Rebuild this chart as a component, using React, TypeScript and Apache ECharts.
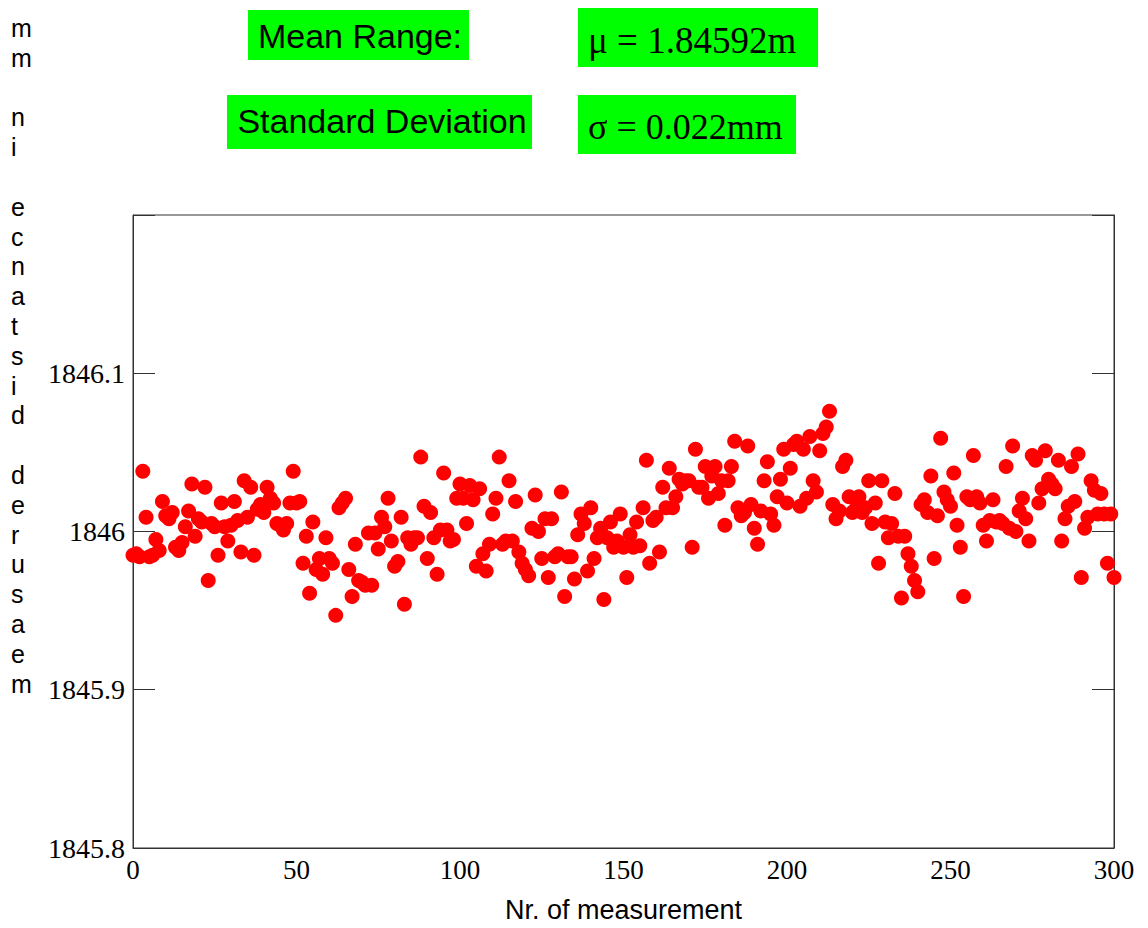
import React, { useEffect, useRef } from "react";
import * as echarts from "echarts";

// measured distance (mm) for measurement number 0..300
const measuredDistance: number[] = [
  1845.985, 1845.986, 1845.984, 1846.038, 1846.009, 1845.984, 1845.985, 1845.995, 1845.988, 1846.019,
  1846.010, 1846.008, 1846.012, 1845.990, 1845.988, 1845.993, 1846.003, 1846.013, 1846.030, 1845.997,
  1846.008, 1846.006, 1846.028, 1845.969, 1846.005, 1846.003, 1845.985, 1846.018, 1846.003, 1845.994,
  1846.004, 1846.019, 1846.007, 1845.987, 1846.032, 1846.009, 1846.028, 1845.985, 1846.014, 1846.017,
  1846.012, 1846.028, 1846.021, 1846.018, 1846.005, 1846.004, 1846.001, 1846.005, 1846.018, 1846.038,
  1846.018, 1846.019, 1845.980, 1845.997, 1845.961, 1846.006, 1845.976, 1845.983, 1845.973, 1845.996,
  1845.983, 1845.980, 1845.947, 1846.015, 1846.018, 1846.021, 1845.976, 1845.959, 1845.992, 1845.969,
  1845.968, 1845.966, 1845.999, 1845.966, 1845.999, 1845.989, 1846.009, 1846.003, 1846.021, 1845.994,
  1845.978, 1845.981, 1846.009, 1845.954, 1845.996, 1845.992, 1845.996, 1845.996, 1846.047, 1846.016,
  1845.983, 1846.012, 1845.996, 1845.973, 1846.001, 1846.037, 1846.001, 1845.994, 1845.995, 1846.021,
  1846.030, 1846.021, 1846.005, 1846.029, 1846.020, 1845.978, 1846.027, 1845.986, 1845.975, 1845.992,
  1846.011, 1846.021, 1846.047, 1845.992, 1845.994, 1846.032, 1845.994, 1846.019, 1845.987, 1845.980,
  1845.976, 1845.972, 1846.002, 1846.023, 1846.000, 1845.983, 1846.008, 1845.971, 1846.008, 1845.984,
  1845.986, 1846.025, 1845.959, 1845.984, 1845.984, 1845.970, 1845.998, 1846.011, 1846.005, 1845.975,
  1846.015, 1845.983, 1845.996, 1846.002, 1845.957, 1845.996, 1846.006, 1845.990, 1845.994, 1846.011,
  1845.990, 1845.971, 1845.998, 1845.990, 1846.006, 1845.991, 1846.015, 1846.045, 1845.980, 1846.007,
  1846.009, 1845.987, 1846.028, 1846.015, 1846.040, 1846.015, 1846.022, 1846.033, 1846.030, 1846.032,
  1846.032, 1845.990, 1846.052, 1846.028, 1846.028, 1846.041, 1846.021, 1846.035, 1846.041, 1846.024,
  1846.032, 1846.004, 1846.032, 1846.041, 1846.057, 1846.015, 1846.010, 1846.012, 1846.054, 1846.017,
  1846.002, 1845.992, 1846.013, 1846.032, 1846.044, 1846.011, 1846.004, 1846.022, 1846.033, 1846.052,
  1846.018, 1846.040, 1846.055, 1846.057, 1846.016, 1846.052, 1846.021, 1846.060, 1846.032, 1846.025,
  1846.051, 1846.062, 1846.066, 1846.076, 1846.017, 1846.008, 1846.013, 1846.041, 1846.045, 1846.022,
  1846.012, 1846.014, 1846.022, 1846.012, 1846.015, 1846.032, 1846.005, 1846.018, 1845.980, 1846.032,
  1846.006, 1845.996, 1846.005, 1846.024, 1845.997, 1845.958, 1845.997, 1845.986, 1845.978, 1845.969,
  1845.962, 1846.017, 1846.020, 1846.012, 1846.035, 1845.983, 1846.010, 1846.059, 1846.025, 1846.020,
  1846.016, 1846.037, 1846.004, 1845.990, 1845.959, 1846.022, 1846.020, 1846.048, 1846.022, 1846.018,
  1846.004, 1845.994, 1846.007, 1846.020, 1846.006, 1846.007, 1846.005, 1846.041, 1846.002, 1846.054,
  1846.000, 1846.013, 1846.021, 1846.008, 1845.994, 1846.048, 1846.045, 1846.018, 1846.027, 1846.051,
  1846.033, 1846.030, 1846.027, 1846.045, 1845.994, 1846.008, 1846.016, 1846.041, 1846.019, 1846.049,
  1845.971, 1846.002, 1846.009, 1846.032, 1846.026, 1846.011, 1846.024, 1846.011, 1845.980, 1846.011,
  1845.971,
];

const xAxisMin = 0;
const xAxisMax = 300;
const xAxisStep = 50;
const yAxisMin = 1845.8;
const yAxisMax = 1846.2;
const yAxisStep = 0.1;

const xTitle = "Nr. of measurement";
const yTitle = "measured distance in mm";
const meanLabel = "Mean Range:";
const meanValue = "\u03bc = 1.84592m";
const sdLabel = "Standard Deviation";
const sdValue = "\u03c3 = 0.022mm";

export default function App() {
  const ref = useRef<HTMLDivElement>(null);

  useEffect(() => {
    if (!ref.current) return;
    const chart = echarts.init(ref.current, undefined, { renderer: "svg" });

    const points = measuredDistance.map((v, i) => [i, v]);
    // y title: characters stacked vertically, reversed (reads bottom to top)
    const stacked = yTitle.split("").reverse().join("\n");

    const serif = "'Liberation Serif', 'Times New Roman', serif";
    const sans = "'Liberation Sans', Arial, sans-serif";

    const yFormatter = (v: number) => {
      if (v > yAxisMax - yAxisStep / 2) return "";
      return String(Math.round(v * 10) / 10);
    };

    chart.setOption({
      animation: false,
      backgroundColor: "#ffffff",
      grid: {
        left: 133,
        top: 215,
        width: 981,
        height: 633,
        show: true,
        borderColor: "#333",
        borderWidth: 1,
        backgroundColor: "transparent",
      },
      xAxis: {
        type: "value",
        min: xAxisMin,
        max: xAxisMax,
        interval: xAxisStep,
        axisLine: { show: true, lineStyle: { color: "#333", width: 1 } },
        axisTick: { show: false },
        splitLine: { show: false },
        axisLabel: {
          color: "#000",
          fontFamily: serif,
          fontSize: 27,
          margin: 8,
        },
        name: xTitle,
        nameLocation: "middle",
        nameGap: 48,
        nameTextStyle: { color: "#000", fontFamily: sans, fontSize: 27 },
      },
      yAxis: [
        {
          type: "value",
          min: yAxisMin,
          max: yAxisMax,
          interval: yAxisStep,
          position: "left",
          axisLine: { show: true, lineStyle: { color: "#333", width: 1 } },
          axisTick: { show: true, inside: true, length: 22, lineStyle: { color: "#333" } },
          splitLine: { show: false },
          axisLabel: {
            color: "#000",
            fontFamily: serif,
            fontSize: 28,
            margin: 8,
            formatter: yFormatter,
          },
        },
        {
          type: "value",
          min: yAxisMin,
          max: yAxisMax,
          interval: yAxisStep,
          position: "right",
          axisLine: { show: true, lineStyle: { color: "#333", width: 1 } },
          axisTick: { show: true, inside: true, length: 22, lineStyle: { color: "#333" } },
          splitLine: { show: false },
          axisLabel: { show: false },
        },
      ],
      series: [
        {
          type: "scatter",
          data: points,
          symbol: "circle",
          symbolSize: 15,
          itemStyle: { color: "#ff0000", opacity: 1 },
          yAxisIndex: 0,
        },
      ],
      graphic: [
        {
          type: "text",
          left: 11,
          top: 13,
          style: {
            text: stacked,
            fontFamily: sans,
            fontSize: 25,
            lineHeight: 29.8,
            fill: "#000",
            align: "left",
          },
        },
        { type: "rect", shape: { x: 248, y: 10, width: 221, height: 50 }, style: { fill: "#00ff00" } },
        {
          type: "text",
          x: 360,
          y: 36,
          style: {
            text: meanLabel,
            fontFamily: sans,
            fontSize: 34,
            fill: "#000",
            align: "center",
            verticalAlign: "middle",
          },
        },
        { type: "rect", shape: { x: 578, y: 8, width: 240, height: 59 }, style: { fill: "#00ff00" } },
        {
          type: "text",
          x: 588,
          y: 40,
          style: {
            text: meanValue,
            fontFamily: serif,
            fontSize: 37,
            fill: "#000",
            align: "left",
            verticalAlign: "middle",
          },
        },
        { type: "rect", shape: { x: 227, y: 95, width: 305, height: 54 }, style: { fill: "#00ff00" } },
        {
          type: "text",
          x: 382,
          y: 121,
          style: {
            text: sdLabel,
            fontFamily: sans,
            fontSize: 34,
            fill: "#000",
            align: "center",
            verticalAlign: "middle",
          },
        },
        { type: "rect", shape: { x: 578, y: 95, width: 218, height: 59 }, style: { fill: "#00ff00" } },
        {
          type: "text",
          x: 588,
          y: 127,
          style: {
            text: sdValue,
            fontFamily: serif,
            fontSize: 36,
            fill: "#000",
            align: "left",
            verticalAlign: "middle",
          },
        },
      ],
    });

    return () => {
      chart.dispose();
    };
  }, []);

  return (
    <div
      ref={ref}
      style={{ position: "fixed", left: 0, top: 0, width: 1148, height: 928 }}
    />
  );
}
